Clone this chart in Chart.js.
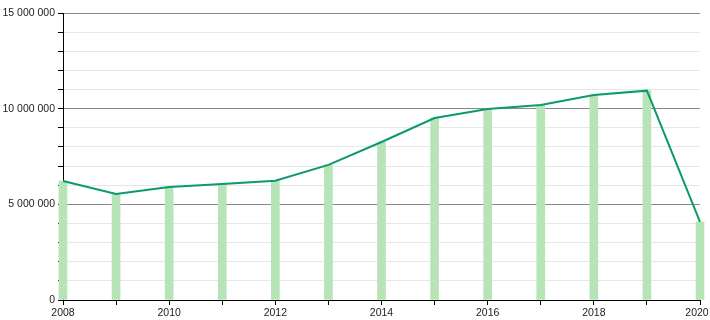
<!DOCTYPE html>
<html><head><meta charset="utf-8">
<script src="https://cdn.jsdelivr.net/npm/chart.js@4/dist/chart.umd.min.js"></script>
<style>html,body{margin:0;padding:0;background:#fff}#w{width:710px;height:320px}</style>
</head><body><div id="w"><canvas id="c" width="710" height="320"></canvas></div>
<script>
const years = [2008,2009,2010,2011,2012,2013,2014,2015,2016,2017,2018,2019,2020];
const values = [6220000,5540000,5900000,6060000,6230000,7060000,8260000,9510000,9980000,10190000,10710000,10940000,4080000];
const yMajorTicks = [0,5000000,10000000,15000000];
const xLabelYears = [2008,2010,2012,2014,2016,2018,2020];

const pts = years.map((y,i)=>({x:y,y:values[i]}));
const fmt = v => String(v).replace(/\B(?=(\d{3})+(?!\d))/g,' ');

const fitLastLabel = {
  id:'fitLastLabel',
  beforeDraw(chart){
    const s = chart.scales.x;
    const items = s.getLabelItems();
    items.forEach(it=>{
      if (it.label === '2020' && !it._shifted){
        it.options.translation[0] -= 3; it._shifted = true;
      }
    });
  }
};

new Chart(document.getElementById('c'),{
  type:'bar',
  data:{datasets:[
    {type:'line',data:pts,borderColor:'#0c9a6c',borderWidth:2,pointRadius:0,tension:0,fill:false,order:0,clip:false},
    {type:'bar',data:pts,backgroundColor:'#b6e4b6',barThickness:8,order:1,clip:false}
  ]},
  options:{
    responsive:false,animation:false,
    layout:{padding:{left:0,right:10,top:13,bottom:0}},
    plugins:{legend:{display:false},tooltip:{enabled:false}},
    scales:{
      x:{type:'linear',min:2008,max:2020,offset:false,
        grid:{offset:false,drawOnChartArea:false,tickColor:'#000',tickLength:5},
        border:{color:'#000',width:1},
        ticks:{stepSize:1,autoSkip:false,maxRotation:0,padding:2,color:'#222',font:{family:'Liberation Sans, Arial',size:10.5},
          callback:v=>xLabelYears.includes(v)?String(v):''},
        afterFit:s=>{s.height=20;s.paddingLeft=0;s.paddingRight=0;}
      },
      y:{min:0,max:15000000,
        grid:{color:c=>yMajorTicks.includes(c.tick.value)?'#888':'#e6e6e6',tickColor:'#000',tickLength:5},
        border:{color:'#000',width:1},
        ticks:{stepSize:1000000,autoSkip:false,padding:3,color:'#222',font:{family:'Liberation Sans, Arial',size:10.5},
          callback:v=>yMajorTicks.includes(v)?fmt(v):''},
        afterFit:s=>{s.width=63;s.paddingTop=0;s.paddingBottom=0;}
      }
    }
  },
  plugins:[fitLastLabel]
});
</script></body></html>
